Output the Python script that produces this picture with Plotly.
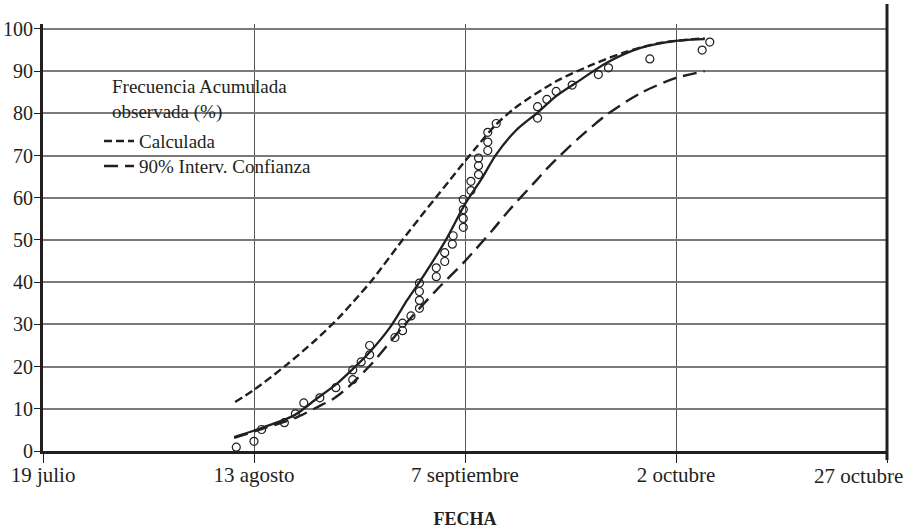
import plotly.graph_objects as go

# Días contados desde el 19 de julio
tick_dias = [0, 25, 50, 75, 100]
tick_fechas = ["19 julio", "13 agosto", "7 septiembre", "2 octubre", "27 octubre"]

# Frecuencia acumulada observada (%)
dias_obs = [22.9, 25.0, 25.9, 28.6, 29.9, 30.9, 32.8, 34.7, 36.7, 36.7,
            37.7, 38.7, 38.7, 41.7, 42.6, 42.6, 43.6, 44.6, 44.6, 44.6,
            44.6, 46.6, 46.6, 47.6, 47.6, 48.5, 48.6, 49.8, 49.8, 49.8,
            49.8, 50.7, 50.7, 51.6, 51.6, 51.6, 52.7, 52.7, 52.7, 53.7,
            58.6, 58.6, 59.7, 60.8, 62.7, 65.8, 67.0, 71.9, 78.1, 79.0]
frec_obs = [0.9, 2.3, 5.1, 6.7, 8.8, 11.4, 12.6, 15.0, 16.9, 19.2,
            21.1, 22.8, 25.0, 26.9, 28.5, 30.3, 32.0, 33.8, 35.7, 37.8,
            39.8, 41.3, 43.4, 44.9, 47.0, 49.0, 51.0, 53.0, 55.1, 57.2,
            59.6, 61.7, 63.9, 65.5, 67.6, 69.4, 71.2, 73.2, 75.5, 77.6,
            78.9, 81.6, 83.3, 85.2, 86.7, 89.2, 90.8, 92.9, 95.0, 96.9]

# Curva ajustada (línea continua)
dias_ajuste = [22.65, 25.8, 29.8, 32.3, 34.8, 36.8, 38.7, 41.05, 43.2, 44.6, 47.7,
               50.0, 52.0, 53.6, 56.0, 58.6, 60.8, 63.2, 66.8, 70.8, 75.0, 78.4]
frec_ajuste = [3.3, 5.4, 8.5, 12.2, 15.9, 19.6, 23.4, 29.1, 35.9, 40.0, 49.9,
               58.5, 64.6, 70.0, 75.9, 80.2, 84.1, 87.3, 92.0, 95.5, 97.2, 97.6]

# Calculada
dias_calc = [22.76, 25.0, 28.85, 32.3, 35.0, 37.4, 39.0, 43.2, 48.2, 51.2, 53.6,
             56.0, 60.8, 64.8, 68.8, 72.8, 75.0, 78.4]
frec_calc = [11.6, 14.5, 20.4, 26.3, 31.5, 36.8, 40.5, 51.6, 64.2, 71.6, 77.2,
             81.4, 87.6, 91.3, 94.4, 96.6, 97.2, 97.8]

# 90% Intervalo de confianza
dias_ic = [22.65, 25.9, 28.6, 30.2, 32.3, 34.5, 36.2, 39.0, 42.8, 46.7, 50.0,
           53.2, 55.2, 58.4, 60.0, 63.4, 66.8, 70.8, 75.0, 78.4]
frec_ic = [3.1, 5.2, 6.9, 8.1, 10.2, 12.5, 15.2, 20.8, 29.8, 38.3, 45.0,
           52.2, 57.0, 64.0, 67.5, 74.0, 79.7, 84.8, 88.4, 90.0]

INK = "#231f20"
SERIF = "Liberation Serif, Times New Roman, serif"

fig = go.Figure()

fig.add_trace(go.Scatter(
    x=dias_obs, y=frec_obs, mode="markers", showlegend=False,
    name="Frecuencia Acumulada observada (%)",
    marker=dict(symbol="circle-open", size=8, color=INK, line=dict(width=1.2, color=INK)),
))
fig.add_trace(go.Scatter(
    x=dias_ajuste, y=frec_ajuste, mode="lines", showlegend=False,
    line=dict(color=INK, width=2.3, shape="spline", smoothing=0.8),
))
fig.add_trace(go.Scatter(
    x=dias_calc, y=frec_calc, mode="lines", name="Calculada", legend="legend",
    line=dict(color=INK, width=2.4, dash="8px,4px", shape="spline", smoothing=0.8),
))
fig.add_trace(go.Scatter(
    x=dias_ic, y=frec_ic, mode="lines", name="90% Interv. Confianza", legend="legend2",
    line=dict(color=INK, width=2.4, dash="14px,7px", shape="spline", smoothing=0.8),
))

legend_style = dict(
    xanchor="left", yanchor="top", bgcolor="rgba(0,0,0,0)", borderwidth=0,
    font=dict(family=SERIF, size=19, color=INK), itemwidth=30,
)

fig.update_layout(
    width=914, height=529,
    margin=dict(l=43, r=27, t=24, b=78, autoexpand=False),
    paper_bgcolor="white", plot_bgcolor="white",
    font=dict(family=SERIF, color=INK, size=19),
    showlegend=True,
    legend=dict(x=0.0664, y=0.770, **legend_style),
    legend2=dict(x=0.0664, y=0.7115, **legend_style),
    xaxis=dict(
        range=[0, 100], tickmode="array", tickvals=tick_dias,
        ticktext=tick_fechas[:-1] + [""],
        showgrid=True, gridcolor="#555555", gridwidth=1,
        showline=True, linecolor=INK, linewidth=3,
        ticks="outside", ticklen=9, tickwidth=1.2, tickcolor=INK,
        ticklabelstandoff=-6, automargin=False,
        tickfont=dict(family=SERIF, size=21, color=INK),
        title=dict(text="<b>FECHA</b>", font=dict(family=SERIF, size=18, color=INK), standoff=28),
        zeroline=False,
    ),
    yaxis=dict(
        range=[0, 101.18], tickmode="linear", tick0=0, dtick=10,
        showgrid=True, gridcolor="#7a7a7a", gridwidth=1.5,
        showline=True, linecolor=INK, linewidth=3,
        ticks="outside", ticklen=6, tickwidth=1.2, tickcolor=INK,
        ticklabelstandoff=-3, automargin=False,
        tickfont=dict(family=SERIF, size=20, color=INK),
        zeroline=False,
    ),
    annotations=[
        dict(text="Frecuencia Acumulada<br>observada (%)", xref="paper", yref="paper",
             x=(110 - 43) / 844, y=(451 - 74) / 427, xanchor="left", yanchor="top",
             align="left", showarrow=False, font=dict(family=SERIF, size=19, color=INK)),
        dict(text=tick_fechas[-1], xref="x", yref="paper", x=tick_dias[-1], y=0,
             xanchor="right", yanchor="top", xshift=18, yshift=-11, showarrow=False,
             font=dict(family=SERIF, size=21, color=INK)),
    ],
    shapes=[
        # fondo blanco de la leyenda (tapa la cuadrícula)
        dict(type="rect", xref="x", yref="y", x0=4.0, x1=37.1, y0=57.1, y1=96.0,
             fillcolor="white", line=dict(width=0), layer="below"),
        # eje derecho
        dict(type="line", xref="paper", yref="paper", x0=1, x1=1, y0=-0.021, y1=1.047,
             line=dict(color=INK, width=3)),
    ],
)

fig.write_html("out.html")
